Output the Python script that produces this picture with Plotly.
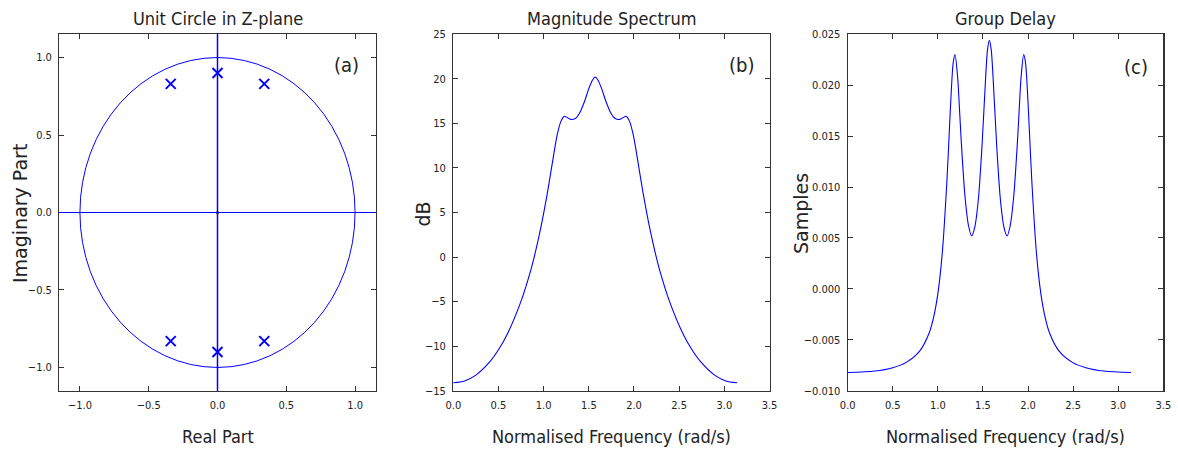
import plotly.graph_objects as go

# ---------------- data ----------------
# Panel (a): pole locations in the z-plane
pole_re = [-0.34, 0.0, 0.34, -0.34, 0.0, 0.34]
pole_im = [0.83, 0.90, 0.83, -0.83, -0.90, -0.83]
zero_re = [0.0]
zero_im = [0.0]
unit_radius = 1.0

# Panel (b): magnitude spectrum (dB) vs normalised frequency
freq_mag = [0.0, 0.125, 0.25, 0.4, 0.5, 0.6, 0.75, 0.85, 0.9, 0.95, 1.0, 1.05,
            1.1, 1.15, 1.19, 1.23, 1.3, 1.35, 1.4, 1.45, 1.5, 1.54, 1.571,
            1.602, 1.642, 1.692, 1.742, 1.792, 1.842, 1.912, 1.952, 1.992,
            2.042, 2.092, 2.142, 2.192, 2.242, 2.292, 2.392, 2.542, 2.642,
            2.742, 2.892, 3.017, 3.142]
mag_db = [-14.1, -13.9, -13.25, -11.8, -10.4, -8.6, -4.95, -1.75, 0.2, 2.4, 4.9, 7.7,
          10.8, 13.7, 15.2, 15.8, 15.45, 15.55, 16.2, 17.4, 18.9, 19.85, 20.2,
          19.85, 18.9, 17.4, 16.2, 15.55, 15.45, 15.8, 15.2, 13.7,
          10.8, 7.7, 4.9, 2.4, 0.2, -1.75, -4.95, -8.6, -10.4,
          -11.8, -13.25, -13.9, -14.1]

# Panel (c): group delay vs normalised frequency
freq_gd = [0.0, 0.3, 0.5, 0.65, 0.8, 0.9, 0.95, 1.0, 1.05, 1.1, 1.13, 1.15, 1.17,
           1.19, 1.22, 1.24, 1.26, 1.3, 1.34, 1.375, 1.41, 1.45, 1.49, 1.53, 1.55,
           1.571,
           1.592, 1.612, 1.652, 1.692, 1.732, 1.767, 1.802, 1.842, 1.882, 1.902,
           1.922, 1.952, 1.972, 1.992, 2.012, 2.042, 2.092, 2.142, 2.192, 2.242,
           2.342, 2.492, 2.642, 2.842, 3.142]
group_delay = [-0.00822, -0.00807, -0.00774, -0.00722, -0.00609, -0.00441, -0.00289,
               -0.00046, 0.00365, 0.01057, 0.01607, 0.01964, 0.02221,
               0.02300, 0.02069, 0.01762, 0.01438, 0.00917, 0.0062, 0.0052, 0.0061,
               0.0089, 0.01413, 0.02081, 0.02345,
               0.0244,
               0.02345, 0.02081, 0.01413, 0.0089, 0.0061, 0.0052, 0.0062, 0.00917,
               0.01438, 0.01762, 0.02069, 0.02300, 0.02221, 0.01964, 0.01607,
               0.01057, 0.00365, -0.00046, -0.00289, -0.00441, -0.00609, -0.00722,
               -0.00774, -0.00807, -0.00822]

# tick values
ticks_a = [-1.0, -0.5, 0.0, 0.5, 1.0]
ticks_freq = [0.0, 0.5, 1.0, 1.5, 2.0, 2.5, 3.0, 3.5]
ticks_db = [-15, -10, -5, 0, 5, 10, 15, 20, 25]
ticks_gd = [-0.010, -0.005, 0.000, 0.005, 0.010, 0.015, 0.020, 0.025]

titles = ["Unit Circle in Z-plane", "Magnitude Spectrum", "Group Delay"]
xlabels = ["Real Part", "Normalised Frequency (rad/s)", "Normalised Frequency (rad/s)"]
ylabels = ["Imaginary Part", "dB", "Samples"]
letters = ["(a)", "(b)", "(c)"]

# ---------------- style ----------------
W, H = 1178, 450
BLUE = "#0000ff"
COND = "DejaVu Sans Condensed, Liberation Sans Narrow, Arial Narrow, sans-serif"
REG = "DejaVu Sans, Verdana, sans-serif"
TXT = "#222222"

xdoms = [(59.3 / W, 375.7 / W), (453.3 / W, 769.5 / W), (847.7 / W, 1163.3 / W)]
ydom = (1 - 390.7 / H, 1 - 34.3 / H)

fig = go.Figure()

# real / imaginary axes of the z-plane (x = 0 and y = 0 reference lines)
fig.add_shape(type="line", xref="x", yref="y domain", x0=0, x1=0, y0=0, y1=1,
              line=dict(color=BLUE, width=1.5), layer="above")
fig.add_shape(type="line", xref="x domain", yref="y", x0=0, x1=1, y0=0, y1=0,
              line=dict(color=BLUE, width=1), layer="above")
fig.add_shape(type="circle", xref="x", yref="y",
              x0=-unit_radius, y0=-unit_radius, x1=unit_radius, y1=unit_radius,
              line=dict(color=BLUE, width=1), layer="above")

fig.add_trace(go.Scatter(x=pole_re, y=pole_im, mode="markers", xaxis="x", yaxis="y",
                         marker=dict(symbol="x-thin", size=10, color=BLUE,
                                     line=dict(color=BLUE, width=2)),
                         showlegend=False, hoverinfo="skip"))
fig.add_trace(go.Scatter(x=zero_re, y=zero_im, mode="markers", xaxis="x", yaxis="y",
                         marker=dict(symbol="circle", size=3, color="#111"),
                         showlegend=False, hoverinfo="skip"))
fig.add_trace(go.Scatter(x=freq_mag, y=mag_db, mode="lines", xaxis="x2", yaxis="y2",
                         line=dict(color=BLUE, width=1.1, shape="spline", smoothing=0.8),
                         showlegend=False, hoverinfo="skip"))
fig.add_trace(go.Scatter(x=freq_gd, y=group_delay, mode="lines", xaxis="x3", yaxis="y3",
                         line=dict(color=BLUE, width=1.1, shape="spline", smoothing=0.8),
                         showlegend=False, hoverinfo="skip"))

common = dict(showline=True, linecolor="#333", linewidth=1.2, mirror="ticks",
              ticks="inside", ticklen=5, tickwidth=1, tickcolor="#333",
              showgrid=False, zeroline=False, ticklabelstandoff=4, automargin=False,
              tickfont=dict(family=COND, size=11, color=TXT), fixedrange=True)

fig.update_layout(
    width=W, height=H, margin=dict(l=0, r=0, t=0, b=0, autoexpand=False),
    paper_bgcolor="white", plot_bgcolor="white", showlegend=False,
    xaxis=dict(common, domain=xdoms[0], anchor="y", range=[-1.15, 1.15],
               tickvals=ticks_a, tickformat=".1f"),
    yaxis=dict(common, domain=ydom, anchor="x", range=[-1.15, 1.15],
               tickvals=ticks_a, tickformat=".1f"),
    xaxis2=dict(common, domain=xdoms[1], anchor="y2", range=[0, 3.5],
                tickvals=ticks_freq, tickformat=".1f"),
    yaxis2=dict(common, domain=ydom, anchor="x2", range=[-15, 25],
                tickvals=ticks_db, tickformat="d"),
    xaxis3=dict(common, domain=xdoms[2], anchor="y3", range=[0, 3.5],
                tickvals=ticks_freq, tickformat=".1f"),
    yaxis3=dict(common, domain=ydom, anchor="x3", range=[-0.010, 0.025],
                tickvals=ticks_gd, tickformat=".3f"),
)

ylab_x = [20 / W, 422.5 / W, 801 / W]
letter_pos = [(346 / W, 1 - 65 / H), (741 / W, 1 - 65 / H), (1136 / W, 1 - 67 / H)]
ann = []
for i in range(3):
    cx = (xdoms[i][0] + xdoms[i][1]) / 2
    ann.append(dict(text=titles[i], x=cx, y=1 - 18 / H, xref="paper", yref="paper",
                    xanchor="center", yanchor="middle", showarrow=False,
                    font=dict(family=COND, size=18, color=TXT)))
    ann.append(dict(text=xlabels[i], x=cx, y=1 - 436 / H, xref="paper", yref="paper",
                    xanchor="center", yanchor="middle", showarrow=False,
                    font=dict(family=COND, size=18, color=TXT)))
    ann.append(dict(text=ylabels[i], x=ylab_x[i], y=1 - 214 / H, xref="paper", yref="paper",
                    xanchor="center", yanchor="middle", showarrow=False, textangle=-90,
                    font=dict(family=REG, size=19, color=TXT)))
    ann.append(dict(text=letters[i], x=letter_pos[i][0], y=letter_pos[i][1],
                    xref="paper", yref="paper", xanchor="center", yanchor="middle",
                    showarrow=False, font=dict(family=COND, size=20, color=TXT)))
fig.update_layout(annotations=ann)

fig.write_html("out.html",
               config={"displayModeBar": False, "staticPlot": True},
               post_script="document.body.style.margin='0';"
                           "document.body.style.overflow='hidden';")
